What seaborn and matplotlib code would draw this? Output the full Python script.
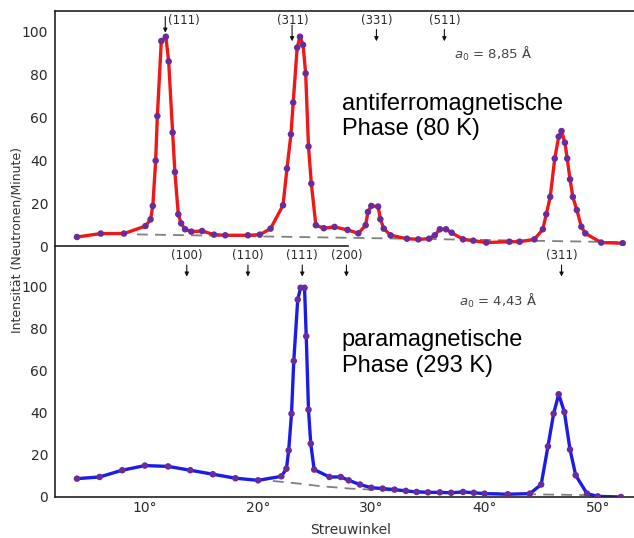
import matplotlib
matplotlib.use("Agg")
import matplotlib.pyplot as plt
import seaborn as sns
import pandas as pd

# ---------------- data ----------------
top_x = [4.0, 6.1, 8.15, 10.05, 10.5, 10.7, 10.95, 11.1, 11.45, 11.85,
         12.1, 12.45, 12.65, 12.95, 13.2, 13.55, 14.1, 15.05, 16.1, 17.1,
         19.1, 20.15, 21.1, 22.2, 22.55, 22.9, 23.1, 23.45, 23.7, 23.97,
         24.2, 24.45, 24.7, 25.1, 25.8, 26.75, 27.9, 28.85, 29.5, 29.7,
         30.0, 30.6, 30.8, 31.1, 31.7, 33.15, 34.15, 35.1, 35.6, 36.05,
         36.6, 37.1, 38.1, 39.0, 40.15, 42.2, 43.1, 44.4, 45.15, 45.45,
         45.8, 46.2, 46.55, 46.8, 47.1, 47.3, 47.55, 47.8, 48.15, 48.55,
         48.9, 50.3, 52.2]
top_y = [4.2, 5.8, 5.8, 9.3, 12.4, 18.7, 39.8, 60.6, 95.6, 97.6,
         86.1, 52.9, 34.5, 14.8, 10.6, 7.8, 6.7, 7.0, 5.3, 5.0,
         5.0, 5.3, 8.1, 19.0, 36.1, 52.1, 66.9, 92.5, 97.6, 93.8,
         80.5, 46.4, 29.1, 9.7, 8.3, 8.9, 7.5, 5.9, 9.7, 15.9,
         18.7, 18.4, 12.5, 8.1, 5.0, 3.4, 3.1, 3.4, 5.0, 7.8,
         7.8, 6.2, 3.1, 2.5, 1.6, 2.0, 2.0, 3.1, 7.8, 14.8,
         22.9, 40.8, 51.0, 53.6, 48.2, 40.8, 31.1, 22.9, 16.8, 9.0,
         5.9, 1.6, 1.3]

bot_x = [4.0, 6.0, 8.0, 10.0, 12.05, 14.0, 16.0, 18.0, 20.0, 22.05,
         22.5, 22.7, 22.95, 23.15, 23.5, 23.75, 24.1, 24.25, 24.45, 24.65,
         24.95, 26.3, 27.3, 28.0, 29.0, 30.0, 31.0, 32.05, 33.05, 34.0,
         35.0, 36.05, 37.05, 38.1, 39.05, 40.0, 42.05, 44.0, 45.0, 45.6,
         46.1, 46.55, 47.05, 47.55, 48.05, 49.05, 50.0, 52.05]
bot_y = [8.7, 9.5, 12.7, 14.9, 14.5, 12.7, 10.8, 8.9, 7.9, 9.8,
         13.4, 22.1, 39.5, 64.5, 93.6, 99.2, 99.2, 76.2, 41.4, 25.3,
         13.0, 9.5, 9.5, 7.9, 5.9, 4.4, 4.0, 3.5, 2.9, 2.4,
         2.2, 2.2, 2.0, 2.4, 2.0, 1.6, 1.3, 1.6, 5.9, 24.0,
         39.5, 48.7, 40.3, 22.5, 10.3, 1.6, 0.3, 0.0]

top_base_x = [9.3, 52.0]
top_base_y = [5.4, 1.8]
bot_base_x = [21.3, 23.7, 25.4, 28.1, 30.0, 35.0, 40.0, 45.0, 49.1]
bot_base_y = [7.6, 6.3, 5.2, 4.0, 3.5, 2.5, 1.8, 1.2, 0.9]

top_labels = ["(111)", "(311)", "(331)", "(511)"]
top_label_pos = [11.8, 23.0, 30.45, 36.45]
bot_labels = ["(100)", "(110)", "(111)", "(200)", "(311)"]
bot_label_pos = [13.7, 19.1, 23.9, 27.8, 46.8]

x_ticks = [10, 20, 30, 40, 50]
x_ticklabels = ["10°", "20°", "30°", "40°", "50°"]
y_ticks = [0, 20, 40, 60, 80, 100]

# ---------------- style ----------------
sns.set_style("white")
plt.rcParams["font.family"] = ["DejaVu Sans"]

W, H = 634, 538
fig = plt.figure(figsize=(W / 100, H / 100), dpi=100)
left = 55 / W
ax_t = fig.add_axes([left, 1 - 246 / H, 1 - left, (246 - 11) / H])
ax_b = fig.add_axes([left, 1 - 497 / H, 1 - left, (497 - 246) / H])

XL = (2.06, 53.2)
red = "#ee1818"
blue = "#1c1ce6"
mark = "#6a2c9c"
dash_col = "#808080"
txt_col = "#2a2a2a"

df_t = pd.DataFrame({"x": top_x, "y": top_y})
df_b = pd.DataFrame({"x": bot_x, "y": bot_y})

for ax, df, col, bx, by in [(ax_t, df_t, red, top_base_x, top_base_y),
                            (ax_b, df_b, blue, bot_base_x, bot_base_y)]:
    sns.lineplot(x=bx, y=by, ax=ax, color=dash_col, lw=1.3,
                 linestyle=(0, (6, 4)), estimator=None, sort=False)
    sns.lineplot(data=df, x="x", y="y", ax=ax, color=col, lw=2.4,
                 estimator=None, sort=False)
    sns.scatterplot(data=df, x="x", y="y", ax=ax, color=mark, s=22,
                    edgecolor="none", zorder=5)
    ax.set_xlim(*XL)
    ax.set_xlabel("")
    ax.set_ylabel("")
    ax.set_yticks(y_ticks)
    ax.set_yticklabels([str(v) for v in y_ticks])
    ax.tick_params(axis="y", direction="out", length=4, width=0.8,
                   color="#777777", pad=1, labelsize=10, labelcolor=txt_col)
    ax.spines["right"].set_visible(False)
    for s in ["left", "top", "bottom"]:
        ax.spines[s].set_color("#222222")
        ax.spines[s].set_linewidth(1.2)
    ax.set_facecolor("none")

ax_t.set_ylim(0, 109.6)
ax_b.set_ylim(0, 119)

# top panel: no x ticks, short separator line at bottom
ax_t.set_xticks([])
ax_t.spines["bottom"].set_bounds(XL[0], 27.9)
ax_b.spines["top"].set_visible(False)

ax_b.set_xticks(x_ticks)
ax_b.set_xticklabels(x_ticklabels)
ax_b.tick_params(axis="x", direction="in", length=5, width=0.8,
                 color="#777777", pad=3, labelsize=10, labelcolor=txt_col)

# reflection annotations
ann_fs = 8.5
arrow = dict(arrowstyle="-|>", lw=0.8, color="#111111", mutation_scale=6,
             shrinkA=0, shrinkB=0)
# (111) top: label right of arrow
ax_t.annotate("", xy=(top_label_pos[0], 99.5), xytext=(top_label_pos[0], 107),
              arrowprops=arrow)
ax_t.text(top_label_pos[0] + 0.25, 105.3, top_labels[0], fontsize=ann_fs,
          color=txt_col, ha="left", va="center")
# (311)
ax_t.annotate("", xy=(top_label_pos[1], 95.5), xytext=(top_label_pos[1], 103),
              arrowprops=arrow)
ax_t.text(top_label_pos[1] + 0.1, 105.3, top_labels[1], fontsize=ann_fs,
          color=txt_col, ha="center", va="center")
for lab, pos in zip(top_labels[2:], top_label_pos[2:]):
    ax_t.annotate("", xy=(pos, 95.5), xytext=(pos, 101),
                  arrowprops=arrow)
    ax_t.text(pos, 105.3, lab, fontsize=ann_fs, color=txt_col,
              ha="center", va="center")

for lab, pos in zip(bot_labels, bot_label_pos):
    ax_b.annotate("", xy=(pos, 104.5), xytext=(pos, 110),
                  arrowprops=arrow)
    ax_b.text(pos, 114.5, lab, fontsize=ann_fs, color=txt_col,
              ha="center", va="center")

# lattice constants
ax_t.text(40.8, 89.5, r"$a_0$ = 8,85 Å", fontsize=9.5, color="#444444",
          ha="center", va="center")
ax_b.text(41.2, 93.0, r"$a_0$ = 4,43 Å", fontsize=9.5, color="#444444",
          ha="center", va="center")

# phase labels
ax_t.text(27.4, 71.4, "antiferromagnetische\nPhase (80 K)", fontsize=17,
          family="Liberation Sans", color="#000000", ha="left", va="top",
          linespacing=1.2)
ax_b.text(27.4, 79.5, "paramagnetische\nPhase (293 K)", fontsize=17,
          family="Liberation Sans", color="#000000", ha="left", va="top",
          linespacing=1.2)

# axis titles
fig.text(17 / W, 1 - 240 / H, "Intensität (Neutronen/Minute)", rotation=90,
         ha="center", va="center", fontsize=9, color="#333333")
fig.text(351 / W, 1 - 530 / H, "Streuwinkel", ha="center", va="center",
         fontsize=10, color="#333333")

fig.savefig("out.png", dpi=100)
